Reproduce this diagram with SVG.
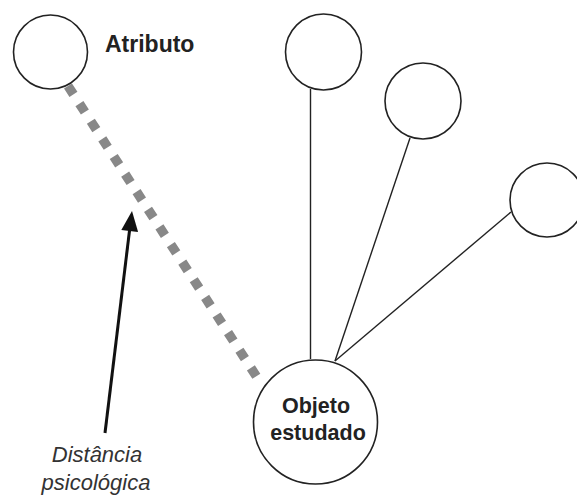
<svg xmlns="http://www.w3.org/2000/svg" width="577" height="495" viewBox="0 0 577 495">
<style>
.node{fill:#fff;stroke:#222;stroke-width:1.6}
.link{stroke:#222;stroke-width:1.4;fill:none}
.bold{font-family:"Liberation Sans",Arial,sans-serif;font-weight:bold;font-size:21.5px;fill:#222}
.ital{font-family:"Liberation Sans",Arial,sans-serif;font-style:italic;font-size:22px;fill:#333}
</style>
<rect width="577" height="495" fill="#fff"/>
<g id="connectors">
<line class="link" x1="310.5" y1="89" x2="310.5" y2="359"/>
<line class="link" x1="410" y1="138" x2="335" y2="361"/>
<line class="link" x1="511" y1="212" x2="335" y2="361"/>
<line x1="68" y1="86" x2="262" y2="385" stroke="#888" stroke-width="9.5" stroke-dasharray="10 11"/>
<line x1="105" y1="433" x2="129.7" y2="229" stroke="#111" stroke-width="3"/>
<polygon points="132,211 138.1,231.9 121.3,229.9" fill="#111"/>
</g>
<g id="atributo">
<circle class="node" cx="50.5" cy="52" r="37"/>
<text class="bold" x="105" y="52" style="font-size:23px">Atributo</text>
</g>
<g id="n1"><circle class="node" cx="323.5" cy="52" r="38"/></g>
<g id="n2"><circle class="node" cx="423" cy="101" r="38"/></g>
<g id="n3"><circle class="node" cx="547" cy="200" r="37"/></g>
<g id="objeto">
<circle class="node" cx="315.5" cy="422" r="62"/>
<text class="bold" x="316" y="413" text-anchor="middle">Objeto</text>
<text class="bold" x="318" y="440" text-anchor="middle">estudado</text>
</g>
<g id="label">
<text class="ital" x="97" y="462" text-anchor="middle">Distância</text>
<text class="ital" x="96" y="490" text-anchor="middle">psicológica</text>
</g>
</svg>
